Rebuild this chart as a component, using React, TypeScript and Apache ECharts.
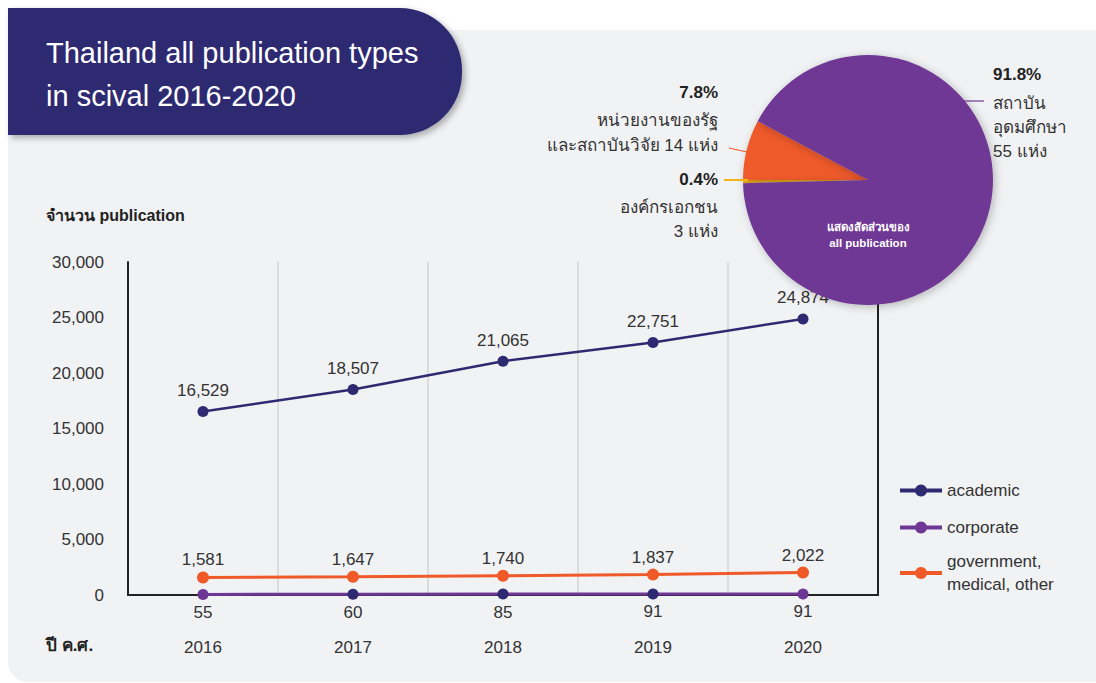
import React, { useEffect, useRef } from "react";
import * as echarts from "echarts";

const years = ["2016", "2017", "2018", "2019", "2020"];
const academic = [16529, 18507, 21065, 22751, 24874];
const corporate = [55, 60, 85, 91, 91];
const government = [1581, 1647, 1740, 1837, 2022];
const seriesNames = ["academic", "corporate", "government, medical, other"];
const yMin = 0;
const yMax = 30000;
const yInterval = 5000;

const pieShares = [0.4, 7.8, 91.8];
const pieNames = ["องค์กรเอกชน 3 แห่ง", "หน่วยงานของรัฐและสถาบันวิจัย 14 แห่ง", "สถาบันอุดมศึกษา 55 แห่ง"];
const pieLabelLines = [
  ["องค์กรเอกชน", "3 แห่ง"],
  ["หน่วยงานของรัฐ", "และสถาบันวิจัย 14 แห่ง"],
  ["สถาบัน", "อุดมศึกษา", "55 แห่ง"],
];

const titleText = "Thailand all publication types\nin scival 2016-2020";
const yAxisTitle = "จำนวน publication";
const xAxisTitle = "ปี ค.ศ.";
const pieCenterText = "แสดงสัดส่วนของ\nall publication";

const NAVY = "#2E2A72";
const PURPLE = "#6F3795";
const ORANGE = "#F05A28";
const YELLOW = "#F5B31A";
const TEXT = "#333333";
const FONT = "'Liberation Sans', Arial, 'Noto Sans', sans-serif";
const corporateMarkerColors = [PURPLE, NAVY, NAVY, NAVY, PURPLE];

const fmt = (v: number) => v.toLocaleString("en-US");

export default function App() {
  const ref = useRef<HTMLDivElement>(null);

  useEffect(() => {
    if (!ref.current) return;
    const chart = echarts.init(ref.current, undefined, { renderer: "svg" });

    const labelStyle = { fontSize: 17, color: TEXT, fontFamily: FONT };

    const pieLabelTexts: any[] = [
      {
        type: "text",
        x: 993,
        y: 66,
        style: { text: `${pieShares[2]}%`, fontSize: 17, fontWeight: "bold", fill: "#222", fontFamily: FONT, textAlign: "left" },
      },
      {
        type: "text",
        x: 993,
        y: 91,
        style: { text: pieLabelLines[2].join("\n"), fontSize: 17, lineHeight: 24, fill: TEXT, fontFamily: FONT, textAlign: "left" },
      },
      {
        type: "text",
        x: 718,
        y: 84,
        style: { text: `${pieShares[1]}%`, fontSize: 17, fontWeight: "bold", fill: "#222", fontFamily: FONT, textAlign: "right" },
      },
      {
        type: "text",
        x: 718,
        y: 108,
        style: { text: pieLabelLines[1].join("\n"), fontSize: 17, lineHeight: 25, fill: TEXT, fontFamily: FONT, textAlign: "right" },
      },
      {
        type: "text",
        x: 718,
        y: 171,
        style: { text: `${pieShares[0]}%`, fontSize: 17, fontWeight: "bold", fill: "#222", fontFamily: FONT, textAlign: "right" },
      },
      {
        type: "text",
        x: 718,
        y: 195,
        style: { text: pieLabelLines[0].join("\n"), fontSize: 17, lineHeight: 24, fill: TEXT, fontFamily: FONT, textAlign: "right" },
      },
    ];

    const option: any = {
      animation: false,
      textStyle: { fontFamily: FONT },
      grid: { left: 128, right: 218, top: 262, bottom: 88, containLabel: false },
      xAxis: {
        type: "category",
        data: years,
        boundaryGap: true,
        axisLine: { show: true, lineStyle: { color: "#222", width: 2 } },
        axisTick: { show: false },
        axisLabel: { margin: 44, fontSize: 17, color: TEXT, fontFamily: FONT },
        splitLine: { show: true, lineStyle: { color: "#D3D3D5", width: 1.5 } },
      },
      yAxis: [
        {
          type: "value",
          min: yMin,
          max: yMax,
          interval: yInterval,
          axisLine: { show: true, lineStyle: { color: "#222", width: 2 } },
          axisTick: { show: false },
          splitLine: { show: false },
          axisLabel: { margin: 24, fontSize: 17, color: TEXT, fontFamily: FONT, formatter: (v: number) => fmt(v) },
        },
        {
          type: "value",
          position: "right",
          min: yMin,
          max: yMax,
          interval: yInterval,
          axisLine: { show: true, lineStyle: { color: "#222", width: 2 } },
          axisTick: { show: false },
          splitLine: { show: false },
          axisLabel: { show: false },
        },
      ],
      legend: {
        orient: "vertical",
        left: 893,
        top: 474,
        itemWidth: 42,
        itemHeight: 15,
        itemGap: 14,
        textStyle: { fontSize: 17, color: TEXT, fontFamily: FONT, lineHeight: 23 },
        formatter: (n: string) => n.replace(", ", ",\n"),
        data: [
          { name: seriesNames[0], itemStyle: { color: NAVY }, lineStyle: { color: NAVY, width: 4 } },
          { name: seriesNames[1], itemStyle: { color: PURPLE }, lineStyle: { color: PURPLE, width: 4 } },
          { name: seriesNames[2], itemStyle: { color: ORANGE }, lineStyle: { color: ORANGE, width: 4 }, textStyle: { height: 23 } },
        ],
      },
      series: [
        {
          name: seriesNames[1],
          type: "line",
          data: corporate,
          z: 3,
          symbol: "circle",
          symbolSize: 11,
          lineStyle: { color: PURPLE, width: 3 },
          itemStyle: { color: (p: any) => corporateMarkerColors[p.dataIndex] ?? PURPLE },
          label: { show: true, position: "bottom", distance: 4, ...labelStyle, formatter: (p: any) => fmt(p.value) },
        },
        {
          name: seriesNames[2],
          type: "line",
          data: government,
          z: 4,
          symbol: "circle",
          symbolSize: 12,
          lineStyle: { color: ORANGE, width: 3 },
          itemStyle: { color: ORANGE },
          label: { show: true, position: "top", distance: 3, ...labelStyle, formatter: (p: any) => fmt(p.value) },
        },
        {
          name: seriesNames[0],
          type: "line",
          data: academic,
          z: 5,
          symbol: "circle",
          symbolSize: 11,
          lineStyle: { color: NAVY, width: 2.5 },
          itemStyle: { color: NAVY },
          label: { show: true, position: "top", distance: 7, ...labelStyle, formatter: (p: any) => fmt(p.value) },
        },
        {
          name: "share",
          type: "pie",
          center: [868, 180],
          radius: 125,
          startAngle: 180 + pieShares[0] * 3.6,
          clockwise: true,
          z: 10,
          silent: true,
          label: { show: false },
          labelLine: { show: false },
          itemStyle: { shadowBlur: 8, shadowColor: "rgba(0,0,0,0.25)", shadowOffsetX: 2, shadowOffsetY: 2 },
          data: pieNames.map((n, i) => ({
            name: n,
            value: pieShares[i],
            itemStyle: { color: [YELLOW, "#EF5A29", PURPLE][i] },
          })),
        },
      ],
      graphic: [
        {
          type: "rect",
          shape: { x: 8, y: 8, width: 454, height: 127, r: [0, 62, 62, 0] },
          style: { fill: NAVY, shadowBlur: 6, shadowOffsetX: 3, shadowOffsetY: 3, shadowColor: "rgba(0,0,0,0.3)" },
          z: 20,
        },
        {
          type: "text",
          x: 46,
          y: 31,
          z: 21,
          style: { text: titleText, fontSize: 29, lineHeight: 43, fill: "#FFFFFF", fontFamily: FONT },
        },
        {
          type: "text",
          x: 46,
          y: 207,
          z: 21,
          style: { text: yAxisTitle, fontSize: 16, fontWeight: "bold", fill: "#222", fontFamily: FONT },
        },
        {
          type: "text",
          x: 46,
          y: 637,
          z: 21,
          style: { text: xAxisTitle, fontSize: 17, fontWeight: "bold", fill: "#222", fontFamily: FONT },
        },
        {
          type: "line",
          z: 21,
          shape: { x1: 964, y1: 101, x2: 984, y2: 101 },
          style: { stroke: PURPLE, lineWidth: 1.2 },
        },
        {
          type: "line",
          z: 21,
          shape: { x1: 729, y1: 148, x2: 747, y2: 152 },
          style: { stroke: ORANGE, lineWidth: 1.2 },
        },
        {
          type: "line",
          z: 21,
          shape: { x1: 724, y1: 180, x2: 748, y2: 180 },
          style: { stroke: YELLOW, lineWidth: 2 },
        },
        {
          type: "text",
          x: 868,
          y: 235,
          z: 30,
          style: {
            text: pieCenterText,
            fontSize: 11.5,
            lineHeight: 16,
            fontWeight: "bold",
            fill: "#FFFFFF",
            fontFamily: FONT,
            textAlign: "center",
            textVerticalAlign: "middle",
          },
        },
        ...pieLabelTexts.map((t) => ({ ...t, z: 21 })),
      ],
    };

    chart.setOption(option);
    return () => chart.dispose();
  }, []);

  return (
    <div style={{ position: "fixed", left: 0, top: 0, width: 1096, height: 683, background: "#FFFFFF", overflow: "hidden" }}>
      <div
        style={{
          position: "absolute",
          left: 8,
          top: 30,
          width: 1110,
          height: 652,
          background: "#F1F2F4",
          borderRadius: "20px 26px 0 20px",
        }}
      />
      <div ref={ref} style={{ position: "absolute", left: 0, top: 0, width: 1096, height: 683 }} />
    </div>
  );
}
